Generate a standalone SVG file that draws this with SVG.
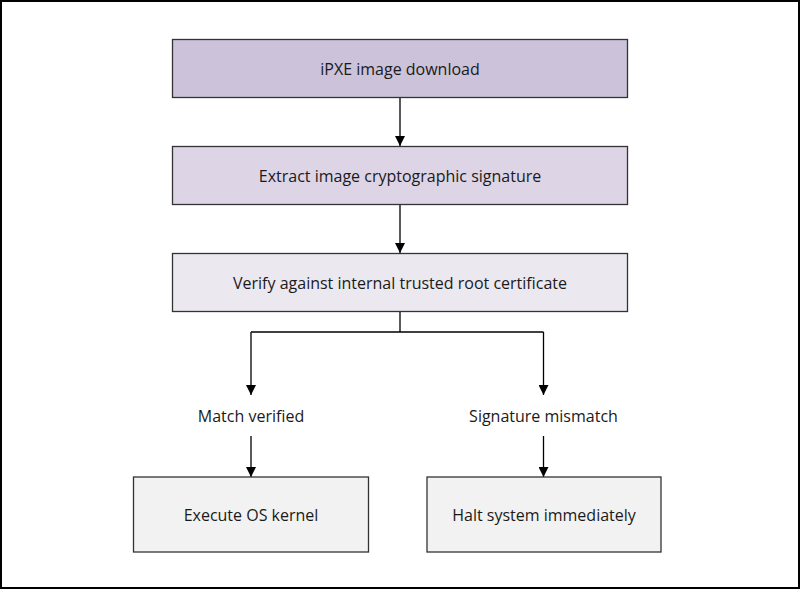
<svg xmlns="http://www.w3.org/2000/svg" width="800" height="589" viewBox="0 0 800 589">
<defs>
<style>
.box{stroke:#333;stroke-width:1.3}
.t{font-family:"Open Sans","Noto Sans","Liberation Sans",sans-serif;font-size:16px;fill:#1a1a1a;text-anchor:middle;dominant-baseline:central}
.c{fill:none;stroke:#000;stroke-width:1.3}
</style>
<marker id="ah" viewBox="0 0 10 10" refX="10" refY="5" markerWidth="10" markerHeight="10" markerUnits="userSpaceOnUse" orient="auto">
<path d="M0,0 L10,5 L0,10 Z" fill="#000"/>
</marker>
</defs>
<rect x="0" y="0" width="800" height="589" fill="#fff"/>
<rect x="1" y="1" width="798" height="587" fill="none" stroke="#000" stroke-width="2"/>
<g id="connectors">
<path class="c" d="M400,98 V146" marker-end="url(#ah)"/>
<path class="c" d="M400,204 V253" marker-end="url(#ah)"/>
<path class="c" d="M400,311 V332"/>
<path class="c" d="M251,332 H543.5"/>
<path class="c" d="M251,332 V395" marker-end="url(#ah)"/>
<path class="c" d="M543.5,332 V395" marker-end="url(#ah)"/>
<path class="c" d="M251,436 V477" marker-end="url(#ah)"/>
<path class="c" d="M543.5,436 V477" marker-end="url(#ah)"/>
</g>
<g id="n1"><rect class="box" x="172.5" y="39.5" width="455" height="58" fill="#ccc2da"/><text class="t" x="400" y="68.5">iPXE image download</text></g>
<g id="n2"><rect class="box" x="172.5" y="146.5" width="455" height="58" fill="#ddd5e6"/><text class="t" x="400" y="175.5">Extract image cryptographic signature</text></g>
<g id="n3"><rect class="box" x="172.5" y="253.5" width="455" height="58" fill="#ebe8f0"/><text class="t" x="400" y="282.5">Verify against internal trusted root certificate</text></g>
<g id="l1"><text class="t" x="251" y="416">Match verified</text></g>
<g id="l2"><text class="t" x="543.5" y="416">Signature mismatch</text></g>
<g id="n4"><rect class="box" x="133.5" y="477" width="235" height="75" fill="#f2f2f2"/><text class="t" x="251" y="515">Execute OS kernel</text></g>
<g id="n5"><rect class="box" x="427" y="477" width="234" height="75" fill="#f2f2f2"/><text class="t" x="544" y="515">Halt system immediately</text></g>
</svg>
